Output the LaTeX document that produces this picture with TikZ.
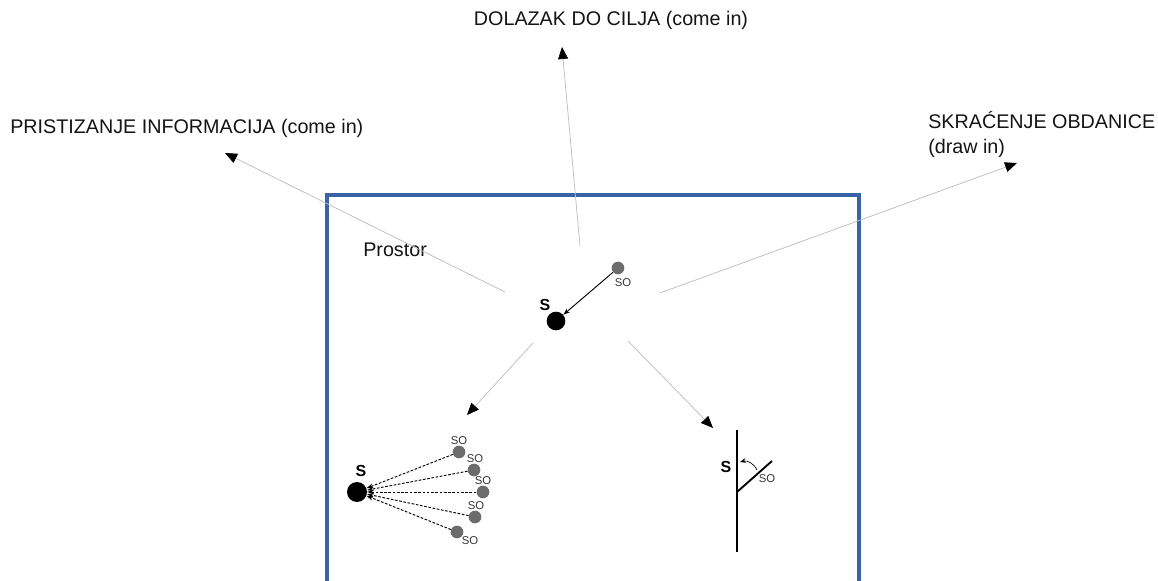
\documentclass[tikz,border=0pt]{standalone}
\usepackage{fontspec}
\setmainfont{Liberation Sans}
\usetikzlibrary{arrows.meta, positioning, calc}
\definecolor{boxBlue}{RGB}{58, 99, 165}
\definecolor{rayGray}{RGB}{190, 190, 190}
\definecolor{soGray}{RGB}{108, 108, 108}
\definecolor{textColor}{RGB}{20, 20, 20}
\tikzset{
    ray_edge/.style={
        -{Triangle[length=9pt, width=7.5pt, color=black]},
        draw=rayGray,
        line width=0.55pt
    },
    pull_edge/.style={
        -{Stealth[length=5pt, width=3.5pt]},
        draw=black,
        line width=0.7pt
    },
    dash_edge/.style={
        pull_edge,
        dashed,
        dash pattern=on 2pt off 1.2pt
    },
    s_dot/.style={
        circle,
        fill=black,
        inner sep=0pt,
        minimum size=14pt
    },
    so_dot/.style={
        circle,
        fill=soGray,
        inner sep=0pt,
        minimum size=9.5pt
    },
    big_label/.style={
        text=textColor,
        font=\fontsize{14.8}{19}\selectfont,
        inner sep=0pt
    },
    s_label/.style={
        font=\fontsize{12}{14}\selectfont\bfseries,
        inner sep=0pt
    },
    so_label/.style={
        text=textColor!85,
        font=\fontsize{8.5}{10}\selectfont,
        inner sep=0pt
    }
}

\begin{document}
\begin{tikzpicture}[x=0.75pt, y=-0.75pt]
    \useasboundingbox[fill=white] (0,0) rectangle (1158,581);

    % space box, open at the bottom
    \draw[boxBlue, line width=2.4pt] (327,600) -- (327,195) -- (859,195) -- (859,600);
    \node[big_label, anchor=west] (prostor) at (363,250) {Prostor};

    % outer labels
    \node[big_label] (cilj) at (611,20) {DOLAZAK DO CILJA (come in)};
    \node[big_label, anchor=west] (info) at (10,128) {PRISTIZANJE INFORMACIJA (come in)};
    \node[big_label, anchor=north west, align=left] (obdan) at (928,111)
        {SKRAĆENJE OBDANICE\\(draw in)};

    % rays out of the centre
    \coordinate (topA) at (580,246);  \coordinate (topB) at (562,47);
    \coordinate (leftA) at (505,292); \coordinate (leftB) at (225,153);
    \coordinate (rightA) at (660,293); \coordinate (rightB) at (1017,163);
    \coordinate (blA) at (533,343);   \coordinate (blB) at (467,415);
    \coordinate (brA) at (628,341);   \coordinate (brB) at (713,428);
    \foreach \a/\b in {topA/topB, leftA/leftB, rightA/rightB, blA/blB, brA/brB}
        \draw[ray_edge] (\a) -- (\b);

    % centre: come in
    \node[s_dot] (s) at (556,321) {};
    \node[s_label] (sLbl) at (545,305) {S};
    \node[so_dot] (so) at (618,268) {};
    \node[so_label] (soLbl) at (623,283) {SO};
    \draw[pull_edge] (so) -- (s);

    % bottom left: many sources
    \node[s_dot, minimum size=15pt] (s2) at (357,492) {};
    \node[s_label] (s2Lbl) at (361,471) {S};
    \foreach \i/\x/\y/\lx/\ly in {1/459/452/459/441, 2/474/470/475/459,
        3/483/492/483/481, 4/475/517/476/506, 5/457/532/470/541} {
        \node[so_dot] (so\i) at (\x,\y) {};
        \node[so_label] (so\i Lbl) at (\lx,\ly) {SO};
        \draw[dash_edge] (so\i) -- (s2);
    }

    % bottom right: shorter day
    \coordinate (wallTop) at (737,430);
    \coordinate (wallBot) at (737,552);
    \coordinate (wallMid) at (737,492);
    \coordinate (armEnd) at (772,461);
    \draw[line width=1.4pt] (wallTop) -- (wallBot);
    \draw[line width=1.4pt] (wallMid) -- (armEnd);
    \node[s_label] (s3Lbl) at (726,467) {S};
    \node[so_label] (so6Lbl) at (767,479) {SO};
    \coordinate (turnA) at (757,470);
    \coordinate (turnB) at (740,462);
    \draw[-{Stealth[length=4.5pt, width=3.5pt]}, line width=0.5pt] (turnA) to[bend right=40] (turnB);
\end{tikzpicture}
\end{document}
